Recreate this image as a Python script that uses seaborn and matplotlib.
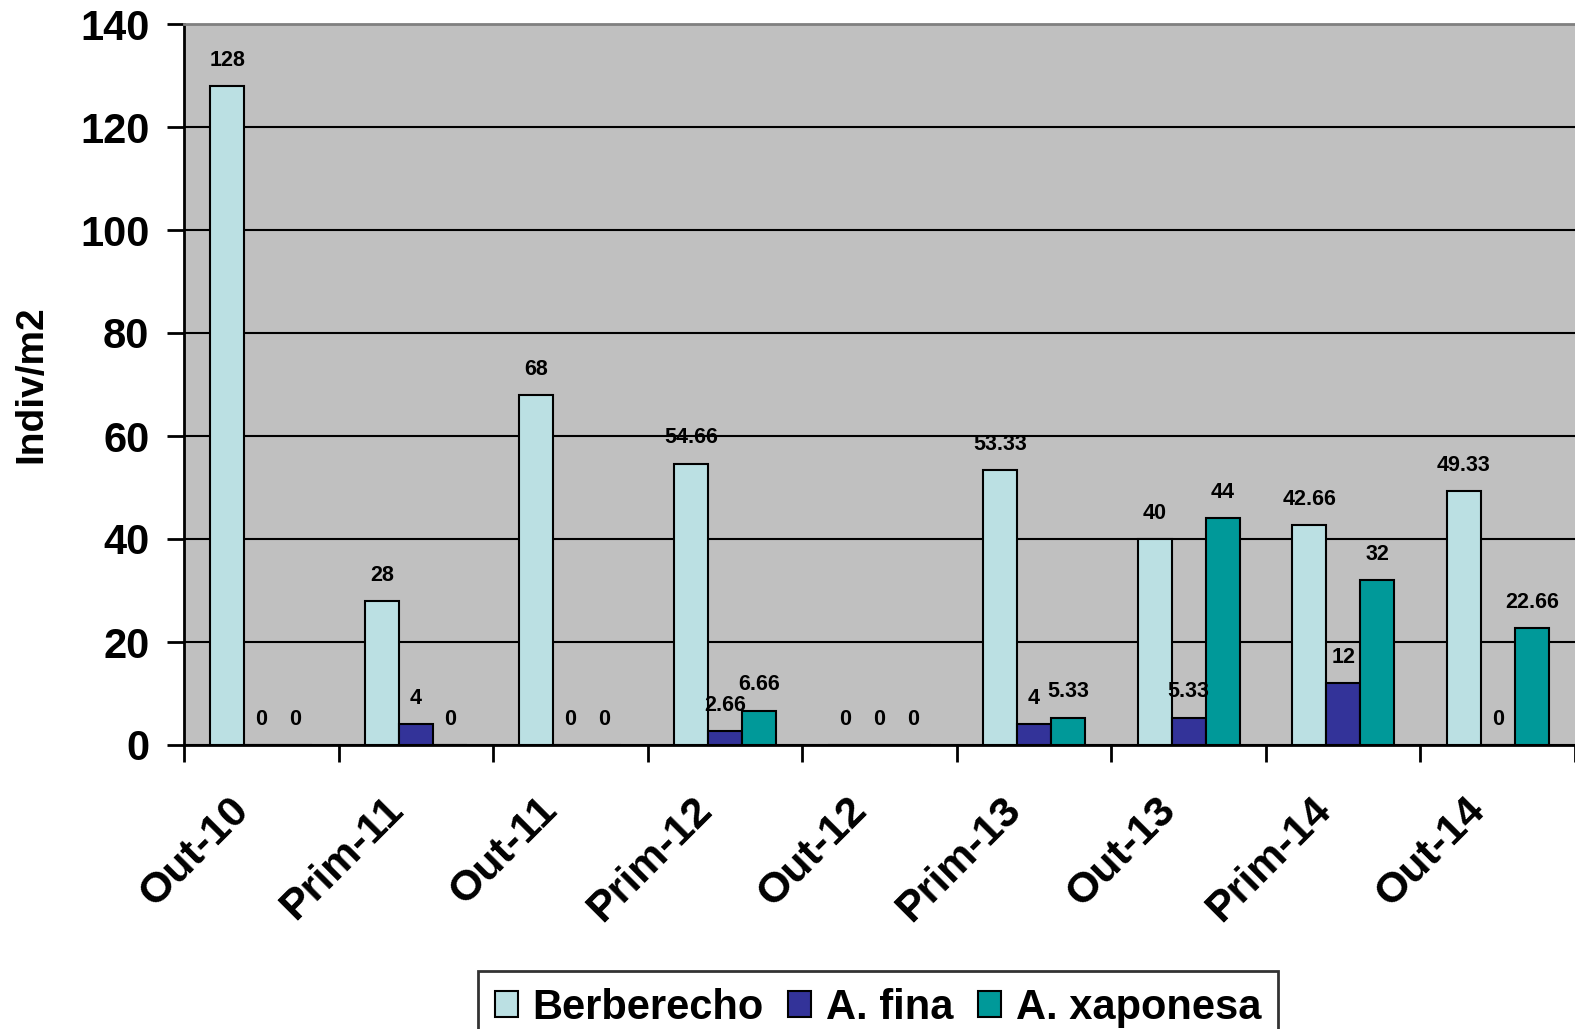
import seaborn as sns
import matplotlib.pyplot as plt
import matplotlib.transforms as mtransforms
import pandas as pd
from matplotlib.ticker import MultipleLocator

periods = ['Out-10', 'Prim-11', 'Out-11', 'Prim-12', 'Out-12', 'Prim-13', 'Out-13', 'Prim-14', 'Out-14']
species = ['Berberecho', 'A. fina', 'A. xaponesa']
berberecho = [128, 28, 68, 54.66, 0, 53.33, 40, 42.66, 49.33]
a_fina = [0, 4, 0, 2.66, 0, 4, 5.33, 12, 0]
a_xaponesa = [0, 0, 0, 6.66, 0, 5.33, 44, 32, 22.66]
colors = ['#BBE0E3', '#333399', '#009999']

rows = []
for name, vals in zip(species, [berberecho, a_fina, a_xaponesa]):
    for p, v in zip(periods, vals):
        rows.append({'period': p, 'species': name, 'value': v})
df = pd.DataFrame(rows)

plt.rcParams['font.family'] = ['Liberation Sans', 'DejaVu Sans']
plt.rcParams['font.weight'] = 'bold'

fig = plt.figure(figsize=(15.75, 10.29), dpi=100)
ax = fig.add_axes([184 / 1575, 1 - 745 / 1029, 1 - 184 / 1575, (745 - 24) / 1029])
ax.set_facecolor('#C0C0C0')

sns.barplot(data=df, x='period', y='value', hue='species', palette=colors,
            width=0.66, edgecolor='black', linewidth=1.5, ax=ax, legend=False,
            saturation=1, errorbar=None)

for cont in ax.containers:
    ax.bar_label(cont, fmt='%g', padding=11, fontsize=15.5, fontweight='bold')

ax.set_ylim(0, 140)
ax.set_xlim(-0.5, 8.5)
ax.yaxis.set_major_locator(MultipleLocator(20))
ax.grid(axis='y', color='black', linewidth=1.5)
ax.set_axisbelow(True)
for s in ['left', 'bottom']:
    ax.spines[s].set_color('black')
    ax.spines[s].set_linewidth(2)
ax.spines['top'].set_color('#808080')
ax.spines['top'].set_linewidth(2)
ax.spines['right'].set_visible(False)

ax.tick_params(axis='y', length=12, width=2, labelsize=30, pad=13)
ax.set_xticks([i - 0.5 for i in range(10)], minor=True)
ax.tick_params(axis='x', which='minor', length=12, width=2)
ax.tick_params(axis='x', which='major', length=0, labelsize=31, pad=32)
ax.set_xticks(range(len(periods)))
ax.set_xticklabels(periods, rotation=45, ha='right', rotation_mode='anchor',
                   fontweight='bold')
shift = mtransforms.ScaledTranslation(-33 / 100, 0, fig.dpi_scale_trans)
for lbl in ax.get_xticklabels():
    lbl.set_transform(lbl.get_transform() + shift)
for lbl in ax.get_yticklabels():
    lbl.set_fontweight('bold')

ax.set_xlabel('')
ax.set_ylabel('Indiv/m2', fontsize=28, fontweight='bold', labelpad=22)

handles = [plt.Rectangle((0, 0), 1, 1, facecolor=c, edgecolor='black', linewidth=1.5) for c in colors]
leg = fig.legend(handles, species, loc='lower center', bbox_to_anchor=(0.5575, -0.035),
                 ncol=3, frameon=True, fancybox=False, handlelength=0.55,
                 handleheight=0.6, handletextpad=0.35, columnspacing=0.6,
                 borderpad=0.4, prop={'weight': 'bold', 'size': 30})
leg.get_frame().set_edgecolor('black')
leg.get_frame().set_linewidth(2)

fig.savefig('out.png', dpi=100)
